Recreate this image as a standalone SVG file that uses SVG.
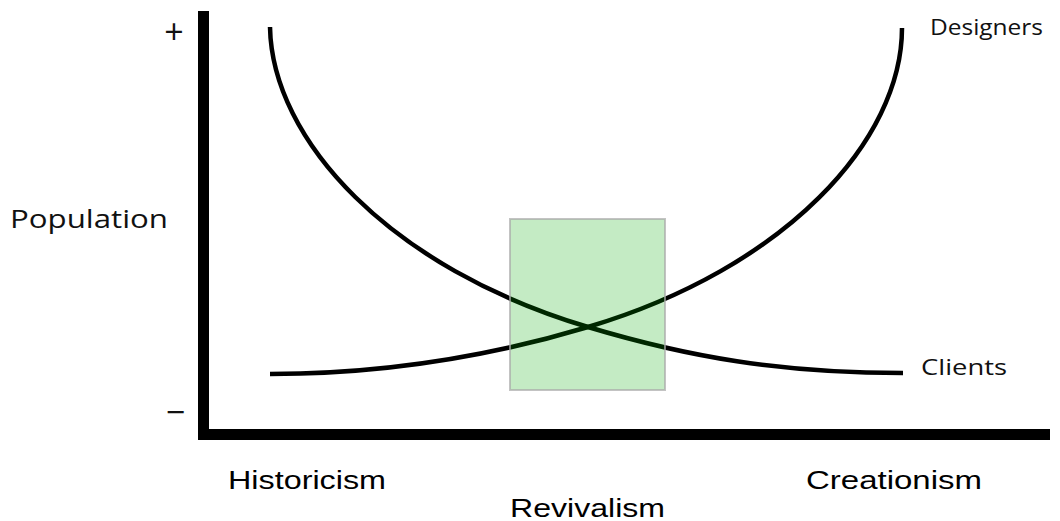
<svg xmlns="http://www.w3.org/2000/svg" width="1060" height="521" viewBox="0 0 1060 521">
<style>
.myr{font-family:"Open Sans","Noto Sans","Liberation Sans",sans-serif;fill:#111}
.ari{font-family:"Liberation Sans",Arial,sans-serif;fill:#000}
.curve{fill:none;stroke:#000;stroke-width:4.5;stroke-linecap:butt}
</style>
<rect width="1060" height="521" fill="#fff"/>
<g id="axes">
<rect x="198" y="11" width="11" height="429" fill="#000"/>
<rect x="198" y="429" width="852" height="11" fill="#000"/>
</g>
<g id="connectors">
<path id="clients-curve" class="curve" d="M270,27 C272,140 390,268 588,327 C688,357 780,373 903,373"/>
<path id="designers-curve" class="curve" d="M270,374 C382,374 488,357 588,327 C786,268 902,140 902,28"/>
</g>
<g id="revival-zone">
<rect x="510" y="219" width="155" height="171" fill="rgb(0,170,0)" fill-opacity="0.23" stroke="#aaa" stroke-opacity="0.7" stroke-width="2"/>
</g>
<g id="labels">
<text class="myr" x="174" y="44" font-size="34" text-anchor="middle">+</text>
<text class="myr" x="175.5" y="424" font-size="34" text-anchor="middle">−</text>
<text class="myr" x="10" y="228" font-size="26" textLength="158" lengthAdjust="spacingAndGlyphs">Population</text>
<text class="myr" x="930" y="35" font-size="22" textLength="113" lengthAdjust="spacingAndGlyphs">Designers</text>
<text class="myr" x="921" y="375" font-size="22" textLength="86" lengthAdjust="spacingAndGlyphs">Clients</text>
<text class="ari" x="228" y="489" font-size="26" textLength="158" lengthAdjust="spacingAndGlyphs">Historicism</text>
<text class="ari" x="510" y="517" font-size="26" textLength="155" lengthAdjust="spacingAndGlyphs">Revivalism</text>
<text class="ari" x="806" y="489" font-size="26" textLength="176" lengthAdjust="spacingAndGlyphs">Creationism</text>
</g>
</svg>
